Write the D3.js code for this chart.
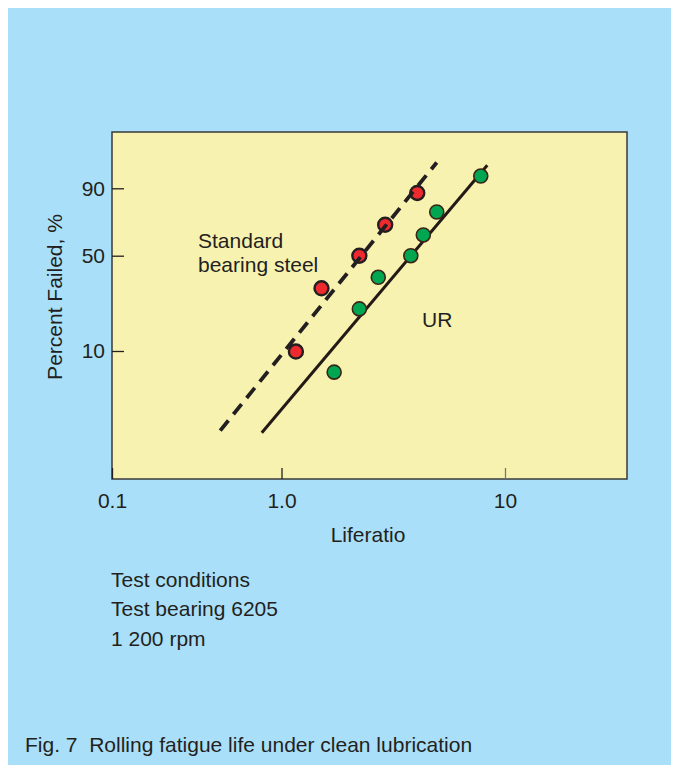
<!DOCTYPE html>
<html>
<head>
<meta charset="utf-8">
<script src="https://cdn.jsdelivr.net/npm/d3@7"></script>
<style>
  body { margin: 0; background: #fff; }
  svg { display: block; font-family: "Liberation Sans", Arial, sans-serif; }
  .keep { white-space: pre; }
</style>
</head>
<body>
<div id="chart"></div>
<script>
// tick values / labels
const xTicks = [0.1, 1, 10];
const xTickLabels = ["0.1", "1.0", "10"];
const yTicks = [10, 50, 90];
const yTickLabels = ["10", "50", "90"];

// standard bearing steel (red), life ratio vs percent failed
const steelLife = [1.16, 1.51, 2.23, 2.91, 4.05];
const steelFailed = [9.9, 30.5, 50, 70, 88];
// UR (green)
const urLife = [1.72, 2.23, 2.71, 3.79, 4.31, 4.95, 7.79];
const urFailed = [6.7, 21.5, 36.4, 50, 63.3, 77.9, 94.3];

// fitted lines, end points
const steelLineLife = [0.435, 4.95];
const steelLineFailed = [2.16, 97.4];
const urLineLife = [0.765, 8.33];
const urLineFailed = [2.07, 96.9];

const width = 676;
const height = 765;
const margin = { top: 132, right: 49, bottom: 286, left: 112 };
const fontSize = 21;

// weibull probability transform
const weib = p => Math.log(-Math.log(1 - p / 100));

const svg = d3.select("#chart")
  .append("svg")
  .attr("width", width)
  .attr("height", height);

svg.append("rect")
  .attr("x", 8)
  .attr("y", 8)
  .attr("width", 663)
  .attr("height", height - 8)
  .attr("fill", "#aadff9");

// the original axis is not an even log scale, so go piecewise
const xScale = d3.scaleLog()
  .domain(xTicks)
  .range([margin.left, 281.5, 505]);

const yScale = d3.scaleLinear()
  .domain(yTicks.map(weib))
  .range([351, 255.7, 188.3]);

svg.append("rect")
  .attr("x", margin.left)
  .attr("y", margin.top)
  .attr("width", width - margin.left - margin.right)
  .attr("height", height - margin.top - margin.bottom)
  .attr("fill", "#f7f2b0")
  .attr("stroke", "#3a3a3a")
  .attr("stroke-width", 1.5);

const xAxis = d3.axisBottom(xScale)
  .tickValues(xTicks)
  .tickFormat((d, i) => xTickLabels[i])
  .tickSize(-11)
  .tickPadding(14);

const yAxis = d3.axisLeft(yScale)
  .tickValues(yTicks.map(weib))
  .tickFormat((d, i) => yTickLabels[i])
  .tickSize(-12)
  .tickPadding(7);

const xAxisGroup = svg.append("g")
  .attr("transform", `translate(0, ${height - margin.bottom})`)
  .call(xAxis);

const yAxisGroup = svg.append("g")
  .attr("transform", `translate(${margin.left}, 0)`)
  .call(yAxis);

[xAxisGroup, yAxisGroup].forEach(g => {
  g.select(".domain").remove();
  g.selectAll(".tick line").attr("stroke", "#231f20").attr("stroke-width", 1.3);
  g.selectAll(".tick text")
    .attr("fill", "#231f20")
    .attr("font-size", fontSize)
    .attr("font-family", "Liberation Sans, Arial, sans-serif");
});
xAxisGroup.selectAll(".tick line").filter(d => d === 10).attr("stroke", "#777");

// axis titles
svg.append("text")
  .attr("x", 368)
  .attr("y", 542)
  .attr("text-anchor", "middle")
  .attr("font-size", fontSize)
  .attr("fill", "#231f20")
  .text("Liferatio");

svg.append("text")
  .attr("transform", `translate(62, 297) rotate(-90)`)
  .attr("text-anchor", "middle")
  .attr("font-size", fontSize)
  .attr("fill", "#231f20")
  .text("Percent Failed, %");

const line = d3.line()
  .x(d => xScale(d[0]))
  .y(d => yScale(weib(d[1])));

// UR line + points
svg.append("path")
  .datum(d3.zip(urLineLife, urLineFailed))
  .attr("d", line)
  .attr("fill", "none")
  .attr("stroke", "#231a16")
  .attr("stroke-width", 3);

svg.append("g")
  .selectAll("circle")
  .data(d3.zip(urLife, urFailed))
  .join("circle")
  .attr("cx", d => xScale(d[0]))
  .attr("cy", d => yScale(weib(d[1])))
  .attr("r", 7)
  .attr("fill", "#00a650")
  .attr("stroke", "#3b2418")
  .attr("stroke-width", 1.6);

// standard steel points + dashed line
svg.append("g")
  .selectAll("circle")
  .data(d3.zip(steelLife, steelFailed))
  .join("circle")
  .attr("cx", d => xScale(d[0]))
  .attr("cy", d => yScale(weib(d[1])))
  .attr("r", 7)
  .attr("fill", "#ee2a2e")
  .attr("stroke", "#231f20")
  .attr("stroke-width", 2.4);

svg.append("path")
  .datum(d3.zip(steelLineLife, steelLineFailed))
  .attr("d", line)
  .attr("fill", "none")
  .attr("stroke", "#231f20")
  .attr("stroke-width", 3.8)
  .attr("stroke-dasharray", "13,8");

// labels in the plot
const labels = svg.append("g")
  .attr("font-size", fontSize)
  .attr("fill", "#231f20");

labels.append("text").attr("x", 198).attr("y", 248).text("Standard");
labels.append("text").attr("x", 198).attr("y", 272).text("bearing steel");
labels.append("text").attr("x", 422).attr("y", 327).text("UR");

// notes below
const notes = ["Test conditions", "Test bearing 6205", "1 200 rpm"];
svg.append("g")
  .attr("font-size", fontSize)
  .attr("fill", "#231f20")
  .selectAll("text")
  .data(notes)
  .join("text")
  .attr("x", 111)
  .attr("y", (d, i) => 587 + i * 29.3)
  .text(d => d);

svg.append("text")
  .attr("class", "keep")
  .attr("x", 25)
  .attr("y", 752)
  .attr("font-size", fontSize)
  .attr("fill", "#231f20")
  .text("Fig. 7  Rolling fatigue life under clean lubrication");
</script>
</body>
</html>
